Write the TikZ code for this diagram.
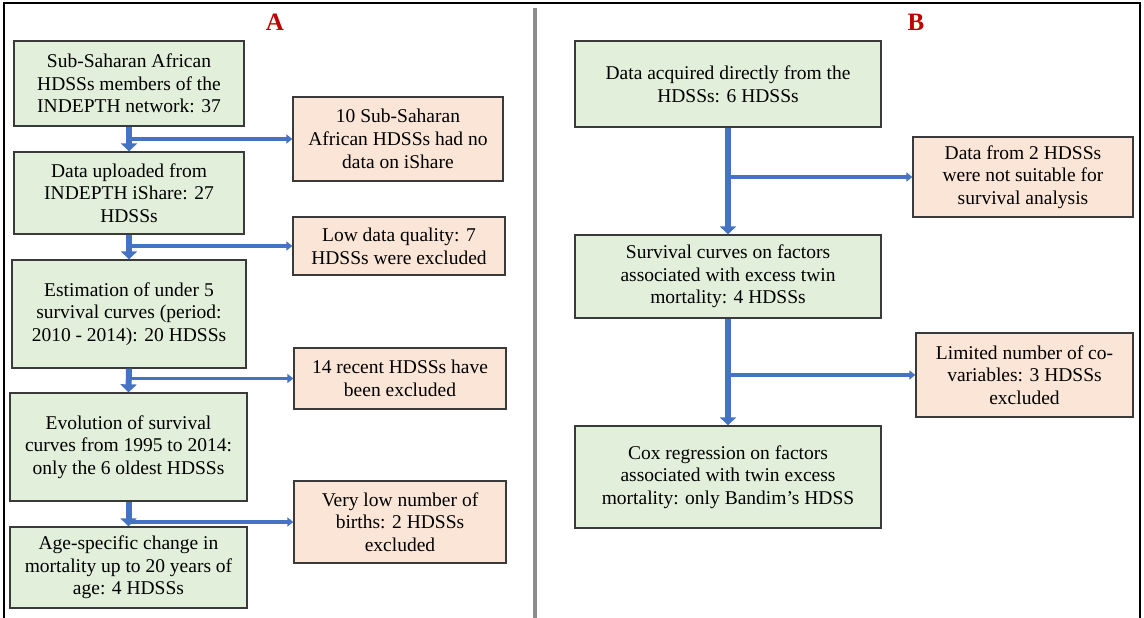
\documentclass[tikz,border=0pt]{standalone}
\usepackage{fontspec}
\setmainfont{Liberation Serif}
\usetikzlibrary{arrows.meta}
\definecolor{gfill}{HTML}{E2EFDA}
\definecolor{ofill}{HTML}{FBE5D6}
\definecolor{bline}{HTML}{4472C4}
\definecolor{edgec}{HTML}{3A3A3A}
\definecolor{lblred}{HTML}{C00000}
\definecolor{divc}{HTML}{8C8C8C}
\begin{document}
\begin{tikzpicture}[x=1pt,y=-1pt,
  box/.style={draw=edgec, line width=1.3pt, align=center, inner sep=2pt,
    font=\fontsize{19.5}{22.7}\selectfont},
  gbox/.style={box, fill=gfill},
  obox/.style={box, fill=ofill},
  varrow/.style={draw=bline, line width=6pt, -{Triangle[width=16pt,length=8pt]}},
  harrow/.style={draw=bline, line width=3.5pt, -{Triangle[width=9pt,length=6pt]}},
  panel/.style={text=lblred, font=\fontsize{25}{28}\selectfont\bfseries}]
\useasboundingbox (0,0) rectangle (1144,618);
\fill[white] (0,0) rectangle (1144,618);
\draw[line width=2pt] (4,3) rectangle (1140,626);
\draw[divc, line width=4pt] (535,8) -- (535,622);

\node[panel] (lA) at (275,22) {A};
\node[panel] (lB) at (916,22) {B};

% Panel A
\node[gbox, minimum width=230pt, minimum height=85pt] (a1) at (129,83.5)
  {Sub-Saharan African\\HDSSs members of the\\INDEPTH network: 37};
\node[gbox, minimum width=230pt, minimum height=82pt] (a2) at (129,193)
  {Data uploaded from\\INDEPTH iShare: 27\\HDSSs};
\node[gbox, minimum width=234pt, minimum height=108pt] (a3) at (129,314)
  {Estimation of under 5\\survival curves (period:\\2010 - 2014): 20 HDSSs};
\node[gbox, minimum width=237pt, minimum height=108pt] (a4) at (128.5,447)
  {Evolution of survival\\curves from 1995 to 2014:\\only the 6 oldest HDSSs};
\node[gbox, minimum width=237pt, minimum height=81pt] (a5) at (128.5,567.5)
  {Age-specific change in\\mortality up to 20 years of\\age: 4 HDSSs};

\node[obox, minimum width=210pt, minimum height=84pt] (o1) at (398,139)
  {10 Sub-Saharan\\African HDSSs had no\\data on iShare};
\node[obox, minimum width=212pt, minimum height=58pt] (o2) at (399,246)
  {Low data quality: 7\\HDSSs were excluded};
\node[obox, minimum width=212pt, minimum height=61pt] (o3) at (400,378.5)
  {14 recent HDSSs have\\been excluded};
\node[obox, minimum width=212pt, minimum height=82pt] (o4) at (400,522)
  {Very low number of\\births: 2 HDSSs\\excluded};

% Panel B
\node[gbox, minimum width=306pt, minimum height=86pt] (b1) at (728,84)
  {Data acquired directly from the\\HDSSs: 6 HDSSs};
\node[gbox, minimum width=306pt, minimum height=83pt] (b2) at (728,276.5)
  {Survival curves on factors\\associated with excess twin\\mortality: 4 HDSSs};
\node[gbox, minimum width=306pt, minimum height=102pt] (b3) at (728,477)
  {Cox regression on factors\\associated with twin excess\\mortality: only Bandim's HDSS};

\node[obox, minimum width=220pt, minimum height=80pt] (p1) at (1023,177)
  {Data from 2 HDSSs\\were not suitable for\\survival analysis};
\node[obox, minimum width=217pt, minimum height=84pt] (p2) at (1024.5,375)
  {Limited number of co-\\variables: 3 HDSSs\\excluded};

% Connectors
\draw[varrow] (a1.south) -- (a2.north);
\draw[varrow] (a2.south) -- (a3.north);
\draw[varrow] (a3.south) -- (a4.north);
\draw[varrow] (a4.south) -- (a5.north);
\draw[harrow] (a1.south |- o1.west) -- (o1.west);
\draw[harrow] (a2.south |- o2.west) -- (o2.west);
\draw[harrow] (a3.south |- o3.west) -- (o3.west);
\draw[harrow] (a4.south |- o4.west) -- (o4.west);

\draw[varrow] (b1.south) -- (b2.north);
\draw[varrow] (b2.south) -- (b3.north);
\draw[harrow] (b1.south |- p1.west) -- (p1.west);
\draw[harrow] (b2.south |- p2.west) -- (p2.west);
\end{tikzpicture}
\end{document}
